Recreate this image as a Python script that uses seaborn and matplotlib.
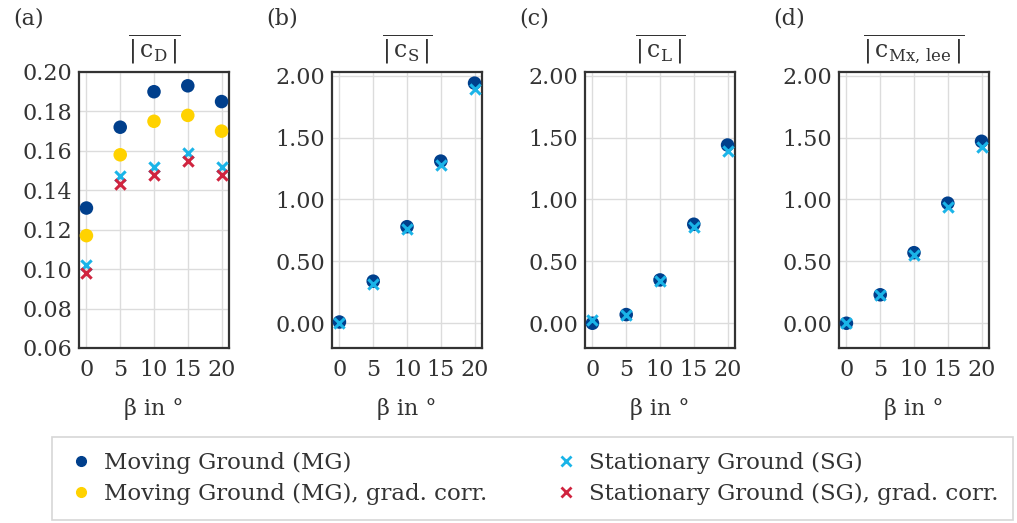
import numpy as np
import pandas as pd
import matplotlib
matplotlib.use("Agg")
import matplotlib.pyplot as plt
import seaborn as sns
from matplotlib.lines import Line2D

beta = [0, 5, 10, 15, 20]

cD_MG = [0.131, 0.172, 0.190, 0.193, 0.185]
cD_MG_gc = [0.117, 0.158, 0.175, 0.178, 0.170]
cD_SG = [0.102, 0.147, 0.152, 0.159, 0.152]
cD_SG_gc = [0.098, 0.143, 0.148, 0.155, 0.148]

cS_MG = [0.01, 0.34, 0.78, 1.31, 1.94]
cS_SG = [0.00, 0.32, 0.76, 1.28, 1.89]

cL_MG = [0.00, 0.07, 0.35, 0.80, 1.44]
cL_SG = [0.03, 0.07, 0.34, 0.78, 1.39]

cM_MG = [0.00, 0.23, 0.57, 0.97, 1.47]
cM_SG = [0.00, 0.23, 0.55, 0.94, 1.42]

titles = [r'$\overline{|\,\mathrm{c_D}\,|}$', r'$\overline{|\,\mathrm{c_S}\,|}$',
          r'$\overline{|\,\mathrm{c_L}\,|}$', r'$\overline{|\,\mathrm{c_{Mx,\,lee}}\,|}$']
panel_labels = ['(a)', '(b)', '(c)', '(d)']
legend_labels = ['Moving Ground (MG)', 'Moving Ground (MG), grad. corr.',
                 'Stationary Ground (SG)', 'Stationary Ground (SG), grad. corr.']

C_MG = '#003f8c'
C_MGgc = '#ffd200'
C_SG = '#1ab4e8'
C_SGgc = '#d0243f'
TXT = '#333333'

sns.set_theme(style='whitegrid')
plt.rcParams['font.family'] = ['DejaVu Serif']
plt.rcParams['mathtext.fontset'] = 'dejavuserif'

fig = plt.figure(figsize=(10.17, 5.23), dpi=100)
W, H = 1017, 523
lefts = [79, 332, 585, 839]
width = 150
top, bottom = 72, 348
axes = []
for l in lefts:
    ax = fig.add_axes([l / W, 1 - bottom / H, width / W, (bottom - top) / H])
    axes.append(ax)

def dot(ax, y, c):
    sns.scatterplot(x=beta, y=y, ax=ax, color=c, marker='o', s=95, edgecolor='none', zorder=3)

def cross(ax, y, c):
    sns.scatterplot(x=beta, y=y, ax=ax, color=c, marker='x', s=55, linewidth=2.2, zorder=4)

dot(axes[0], cD_MG, C_MG)
dot(axes[0], cD_MG_gc, C_MGgc)
cross(axes[0], cD_SG, C_SG)
cross(axes[0], cD_SG_gc, C_SGgc)

for ax, mg, sg in zip(axes[1:], [cS_MG, cL_MG, cM_MG], [cS_SG, cL_SG, cM_SG]):
    dot(ax, mg, C_MG)
    cross(ax, sg, C_SG)

for i, ax in enumerate(axes):
    ax.set_xlim(-1.1, 21.1)
    ax.set_xticks(beta)
    if i == 0:
        yt = np.arange(0.06, 0.201, 0.02)
        ax.set_ylim(0.06, 0.20)
        ax.set_yticks(yt)
        ax.set_yticklabels([f'{v:.2f}' for v in yt])
    else:
        ax.set_ylim(-0.2, 2.03)
        ax.set_yticks([0, 0.5, 1.0, 1.5, 2.0])
        ax.set_yticklabels(['0.00', '0.50', '1.00', '1.50', '2.00'])
    ax.set_facecolor('white')
    ax.grid(True, color='#dcdcdc', linewidth=1.0)
    for s in ax.spines.values():
        s.set_color(TXT)
        s.set_linewidth(1.6)
        s.set_visible(True)
    ax.tick_params(direction='in', length=6, width=1.6, color=TXT,
                   labelsize=16, labelcolor=TXT)
    ax.tick_params(axis='x', pad=8)
    ax.tick_params(axis='y', pad=5)
    ax.set_xlabel('β in °', fontsize=16, color=TXT, labelpad=12)
    ax.set_ylabel('')
    ax.set_title(titles[i], fontsize=17, color=TXT, pad=10)
    fig.text((lefts[i] - 66) / W, 1 - 18 / H, panel_labels[i], fontsize=16,
             color=TXT, va='center', ha='left')

handles = [
    Line2D([], [], linestyle='none', marker='o', color=C_MG, markersize=7),
    Line2D([], [], linestyle='none', marker='o', color=C_MGgc, markersize=7),
    Line2D([], [], linestyle='none', marker='x', color=C_SG, markersize=7, markeredgewidth=2),
    Line2D([], [], linestyle='none', marker='x', color=C_SGgc, markersize=7, markeredgewidth=2),
]
leg = fig.legend(handles, legend_labels, ncol=2, loc='upper left',
                 bbox_to_anchor=(52 / W, 0, (1013 - 52) / W, 1 - 437 / H), mode='expand',
                 fontsize=16.5, frameon=True, fancybox=False, edgecolor='#cccccc',
                 handletextpad=0.4, labelspacing=0.38,
                 borderpad=0.65, handlelength=1.2, borderaxespad=0)
leg.get_frame().set_linewidth(1.2)
for t in leg.get_texts():
    t.set_color(TXT)

fig.savefig('out.png', dpi=100)
